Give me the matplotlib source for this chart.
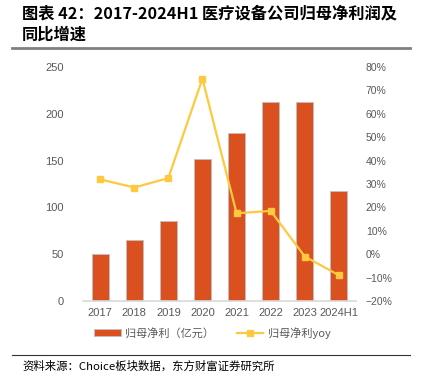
import matplotlib
matplotlib.use("Agg")
import matplotlib.pyplot as plt
from matplotlib.lines import Line2D
from matplotlib.patches import Patch
from matplotlib.ticker import FuncFormatter

plt.rcParams['font.family'] = ['Liberation Sans', 'Noto Sans CJK SC', 'DejaVu Sans']
plt.rcParams['axes.unicode_minus'] = True

categories = ['2017', '2018', '2019', '2020', '2021', '2022', '2023', '2024H1']
net_profit = [50, 65, 86, 152, 179, 213, 213, 117]
yoy = [32, 28.5, 32.5, 75, 17.5, 18.5, -1, -9]
left_ticks = [0, 50, 100, 150, 200, 250]
right_ticks = [-20, -10, 0, 10, 20, 30, 40, 50, 60, 70, 80]

bar_color = '#DA501E'
line_color = '#FFC93F'
tick_color = '#595959'

fig = plt.figure(figsize=(4.23, 3.76), dpi=100)
ax = fig.add_axes([83/423, 1-301/376, (356-83)/423, (301-67)/376])
x = list(range(len(categories)))
ax.bar(x, net_profit, width=0.5, color=bar_color, edgecolor='#BFBFBF', linewidth=0.6, zorder=2)
ax.set_xlim(-0.5, len(categories)-0.5)
ax.set_ylim(0, 250)
ax.set_yticks(left_ticks)
ax.set_xticks(x)
ax.set_xticklabels(categories)
for s in ['top', 'right', 'left']:
    ax.spines[s].set_visible(False)
ax.spines['bottom'].set_color('#D9D9D9')
ax.spines['bottom'].set_linewidth(1.2)
ax.tick_params(axis='both', length=0, labelsize=8, colors=tick_color)
ax.tick_params(axis='y', pad=14)
ax.tick_params(axis='x', pad=5)

ax2 = ax.twinx()
ax2.plot(x, yoy, color=line_color, linewidth=1.6, marker='s', markersize=5, zorder=3)
ax2.set_ylim(-20, 80)
ax2.set_yticks(right_ticks)
ax2.yaxis.set_major_formatter(FuncFormatter(lambda v, p: f'{int(v)}%'.replace('-', '\u2212')))
for s in ['top', 'right', 'left', 'bottom']:
    ax2.spines[s].set_visible(False)
ax2.tick_params(axis='y', length=0, labelsize=7.5, colors=tick_color, pad=7)

handles = [Patch(facecolor=bar_color, edgecolor='#BFBFBF', linewidth=0.6),
           Line2D([0], [0], color=line_color, linewidth=1.6, marker='s', markersize=5)]
fig.legend(handles, ['归母净利（亿元）', '归母净利yoy'], loc='center', bbox_to_anchor=(0.502, 1-333/376),
           ncol=2, frameon=False, handlelength=2.4, handleheight=0.6,
           columnspacing=2.0, handletextpad=0.4, labelcolor=tick_color,
           prop={'family': ['Noto Sans CJK SC', 'DejaVu Sans'], 'size': 8})

fig.text(22/423, 1-13/376, '图表 42：2017-2024H1 医疗设备公司归母净利润及', fontsize=11.7,
         fontweight='bold', family=['Noto Sans CJK SC'], va='center', ha='left')
fig.text(22/423, 1-35/376, '同比增速', fontsize=11.7,
         fontweight='bold', family=['Noto Sans CJK SC'], va='center', ha='left')
fig.add_artist(Line2D([12/423, 410/423], [1-48/376, 1-48/376], color='#808080', linewidth=2))
fig.add_artist(Line2D([12/423, 410/423], [1-355/376, 1-355/376], color='#333333', linewidth=0.8))
fig.text(22/423, 1-366/376, '资料来源：Choice板块数据，东方财富证券研究所', fontsize=8.2,
         family=['Noto Sans CJK SC'], va='center', ha='left')

fig.savefig('out.png', dpi=100)
